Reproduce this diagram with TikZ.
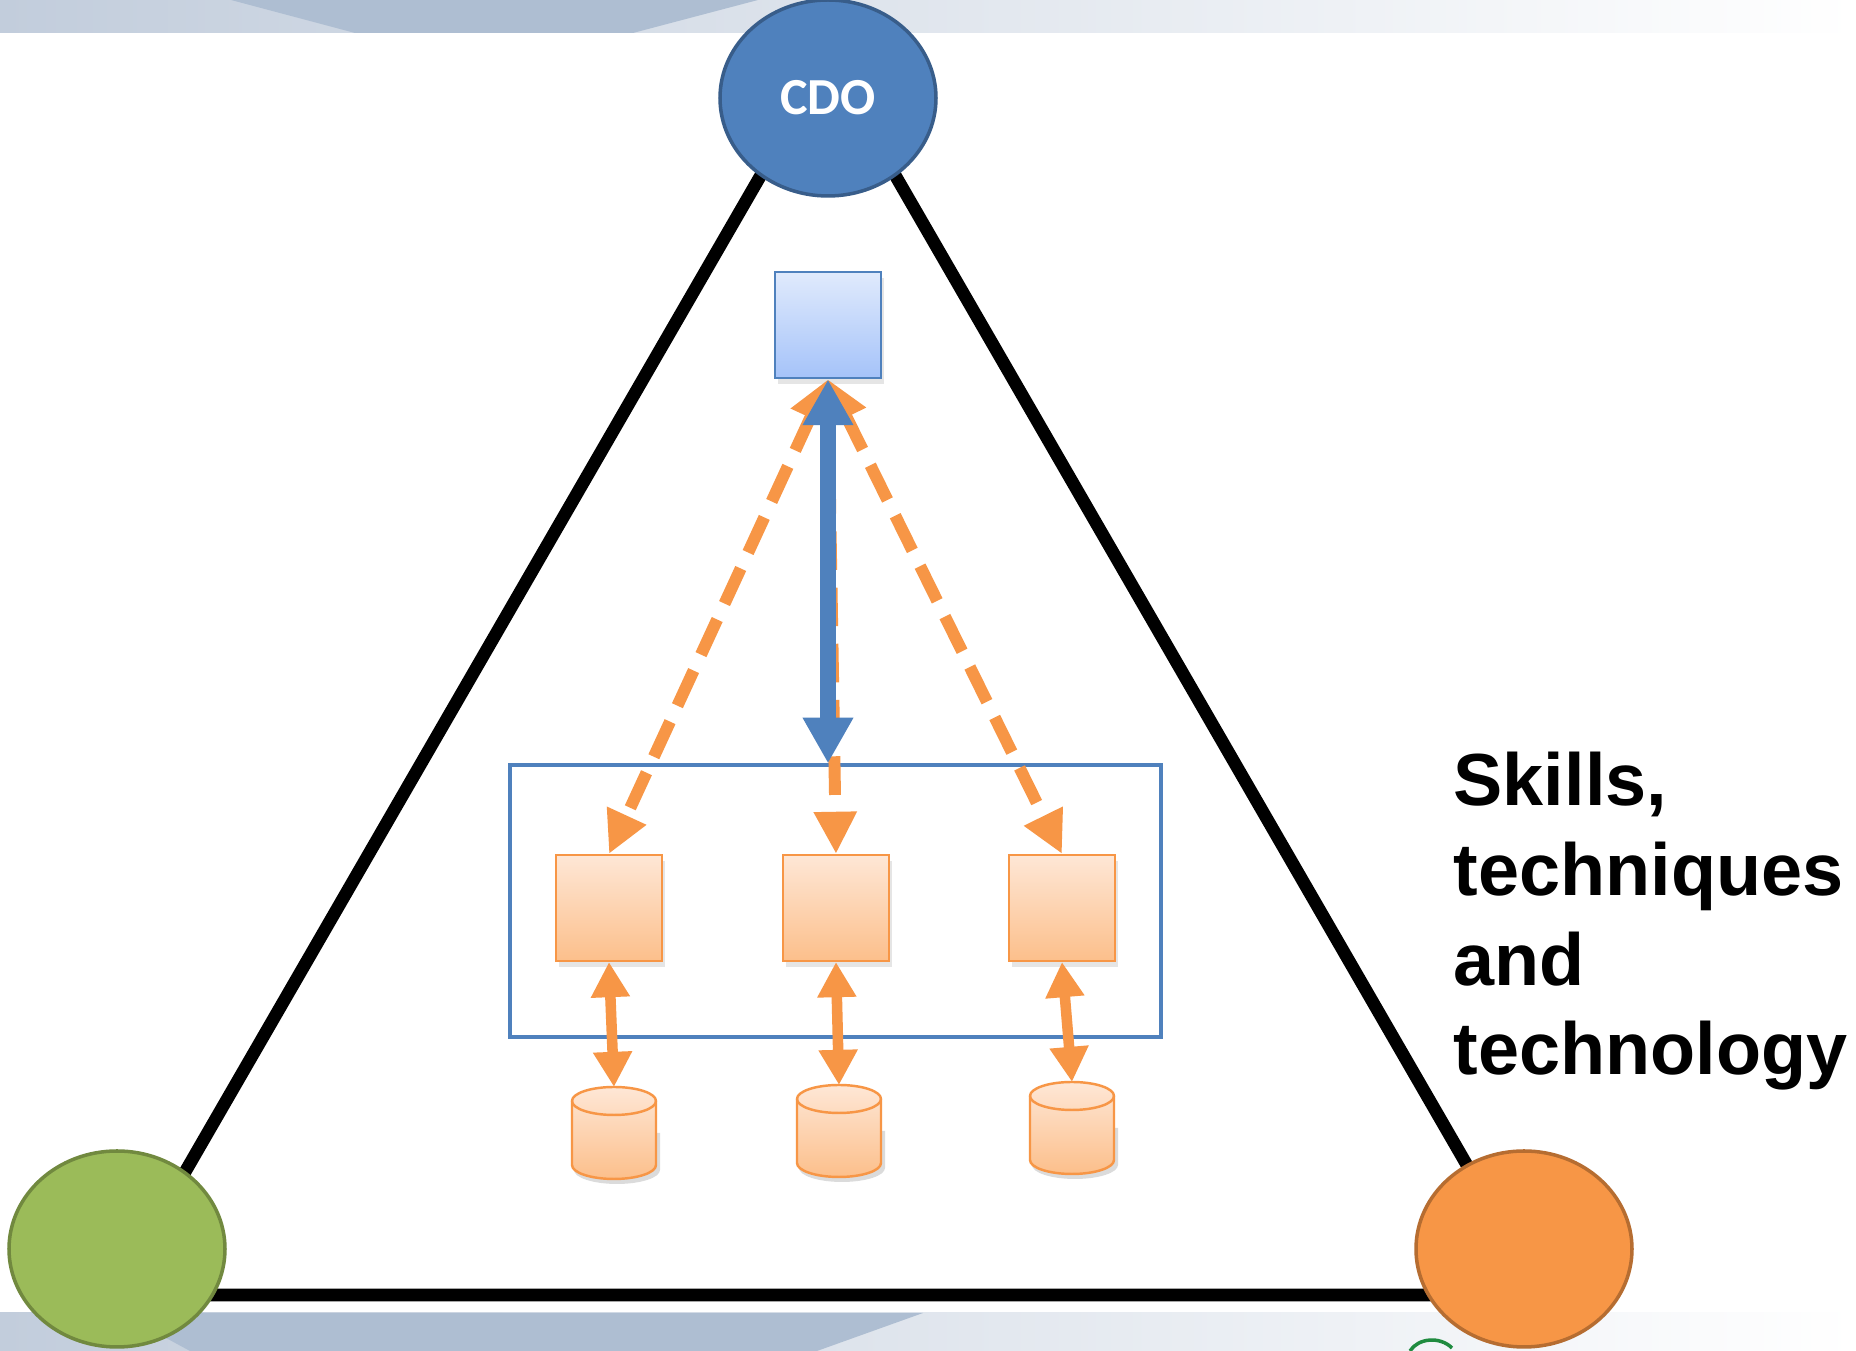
\documentclass[tikz,border=0pt]{standalone}
\usepackage{fontspec}
\setmainfont{Liberation Sans}
\newfontfamily\cdofont{Carlito}
\usepackage{xcolor}
\usepackage{tikz}
\usetikzlibrary{shapes, arrows.meta, positioning, calc, shadows}

\definecolor{cdoblue}{HTML}{4F81BD}
\definecolor{cdoedge}{HTML}{385D8A}
\definecolor{leafgreen}{HTML}{9BBB59}
\definecolor{leafedge}{HTML}{71893F}
\definecolor{tangerine}{HTML}{F79646}
\definecolor{tangedge}{HTML}{B66D31}
\definecolor{peachtop}{HTML}{FEE7D6}
\definecolor{peachbot}{HTML}{FCBF8B}
\definecolor{skytop}{HTML}{E0EAFC}
\definecolor{skybot}{HTML}{A5C3F9}
\definecolor{bandA}{HTML}{C2CDDC}
\definecolor{bandB}{HTML}{AEBED2}
\definecolor{logogreen}{HTML}{1F8B3F}

\begin{document}
\begin{tikzpicture}[x=0.1mm, y=-0.1mm,
        role/.style={ellipse, minimum width=21.6mm, minimum height=19.6mm, line width=1pt, inner sep=0pt},
        unit/.style={rectangle, draw=tangerine, line width=0.6pt, top color=peachtop, bottom color=peachbot,
                minimum size=10.6mm, inner sep=0pt, drop shadow={shadow xshift=0.3mm, shadow yshift=-0.6mm, opacity=0.2}},
        drum/.style={draw=tangerine, line width=0.7pt, top color=peachtop, bottom color=peachbot},
        link/.style={tangerine, line width=3pt, {Triangle[length=10pt,width=10.5pt]}-{Triangle[length=10pt,width=10.5pt]}},
        feed/.style={tangerine, line width=3.4pt, dash pattern=on 11pt off 5pt,
                {Triangle[length=12pt,width=11.5pt]}-{Triangle[length=12pt,width=11.5pt]}}]

        \fill[white] (0,0) rectangle (1856,1351);
        \useasboundingbox (0,0) rectangle (1856,1351);

        % slide bands
        \shade[left color=bandA, right color=white] (0,0) rectangle (1856,33);
        \fill[bandB] (231,0) -- (758,0) -- (633,33) -- (355,33) -- cycle;
        \shade[left color=bandA, right color=white] (0,1313) rectangle (1856,1351);
        \fill[bandB] (120,1313) -- (923,1313) -- (817,1351) -- (190,1351) -- cycle;
        \draw[logogreen, line width=1pt] (1410,1351) .. controls (1418,1338) and (1440,1336) .. (1452,1348);

        % triangle
        \coordinate (apex) at (828,59);
        \coordinate (baseL) at (114,1295);
        \coordinate (baseR) at (1542,1295);
        \draw[line width=3.6pt] (baseL) -- (apex) -- (baseR) -- cycle;

        \node[role, fill=cdoblue, draw=cdoedge, text=white, font=\cdofont\bfseries\fontsize{14.8}{16}\selectfont] (cdo) at (828,98) {CDO};
        \node[role, fill=leafgreen, draw=leafedge] (biz) at (117,1249) {};
        \node[role, fill=tangerine, draw=tangedge] (tech) at (1524,1249) {};

        % team
        \node[rectangle, draw=cdoblue, line width=0.8pt, top color=skytop, bottom color=skybot, minimum size=10.6mm, inner sep=0pt,
                drop shadow={shadow xshift=0.3mm, shadow yshift=-0.6mm, opacity=0.2}] (hub) at (828,325) {};
        \node[draw=cdoblue, line width=0.9pt, minimum width=65.1mm, minimum height=27.2mm, inner sep=0pt] (team) at (835.5,901) {};

        % units and their data stores
        \foreach \i/\ux/\cx/\cy in {1/609/614/1133, 2/836/839/1131, 3/1062/1072/1128} {
                \node[unit] (u\i) at (\ux,908) {};
                \coordinate (s\i) at (\cx,\cy);
                \coordinate (d\i) at (\cx,\cy-46);
                \begin{scope}[shift={(s\i)}]
                        \fill[black, opacity=0.14] (-40,0) -- (-40,37) arc[start angle=180, end angle=0, x radius=43, y radius=14]
                                -- (46,0) -- cycle;
                        \shade[drum] (-42,-32) -- (-42,32) arc[start angle=180, end angle=0, x radius=42, y radius=14]
                                -- (42,-32) arc[start angle=0, end angle=-180, x radius=42, y radius=14] -- cycle;
                        \draw[tangerine, line width=0.7pt] (-42,-32) arc[start angle=180, end angle=0, x radius=42, y radius=14];
                \end{scope}
                \draw[link] (u\i.south) -- (d\i);
            }

        \draw[feed] (hub.south) -- (u2.north);
        \draw[feed] (hub.south) -- (u1.north);
        \draw[feed] (hub.south) -- (u3.north);
        \draw[cdoblue, line width=4.5pt, {Triangle[length=13pt,width=13.5pt]}-{Triangle[length=13pt,width=13.5pt]}]
                (hub.south) -- (hub.south |- team.north);

        \node[anchor=base west, align=left, inner sep=0pt, font=\bfseries\fontsize{21}{25.6}\selectfont] (caption) at (1453,1075)
                {Skills,\\techniques\\and\\technology};

    \end{tikzpicture}
\end{document}
